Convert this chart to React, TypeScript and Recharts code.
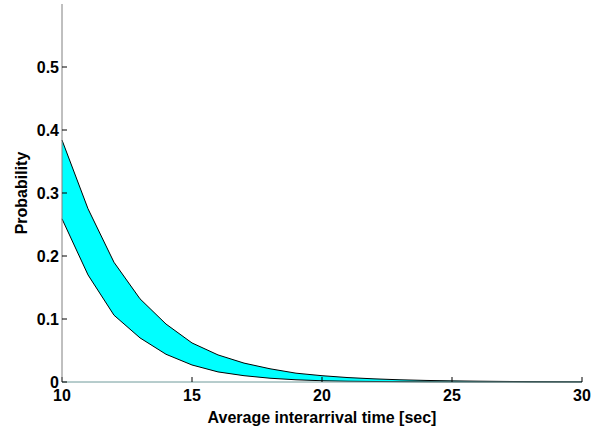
import { FC } from 'react';
import { ComposedChart, Area, XAxis, YAxis } from 'recharts';

const interarrival = [10, 11, 12, 13, 14, 15, 16, 17, 18, 19, 20, 21, 22, 23, 24, 25, 26, 27, 28, 29, 30];
const upperProb = [0.384, 0.275, 0.19, 0.132, 0.092, 0.062, 0.043, 0.03, 0.021, 0.014, 0.01, 0.007, 0.005, 0.0035, 0.0025, 0.0018, 0.0013, 0.0009, 0.0006, 0.0004, 0.0003];
const lowerProb = [0.259, 0.17, 0.106, 0.07, 0.044, 0.027, 0.016, 0.01, 0.006, 0.0035, 0.002, 0.0012, 0.0008, 0.0005, 0.0003, 0.0002, 0.0001, 0.0001, 0, 0, 0];
const xTicks = [10, 15, 20, 25, 30];
const yTicks = [0, 0.1, 0.2, 0.3, 0.4, 0.5];

const data = interarrival.map((t, i) => ({ t, band: [lowerProb[i], upperProb[i]] }));

const font = 'Liberation Sans, Arial, Helvetica, sans-serif';
const tickStyle = { fontSize: 16, fontWeight: 'bold', fill: '#000', fontFamily: font };

const App: FC = () => {
    return (
        <div style={{ position: 'absolute', left: 0, top: 0, background: '#fff' }}>
            <ComposedChart
                width={607}
                height={429}
                data={data}
                margin={{ top: 4, right: 25, left: 0, bottom: 0 }}
            >
                <XAxis
                    dataKey="t"
                    type="number"
                    domain={[10, 30]}
                    ticks={xTicks}
                    height={47}
                    tick={tickStyle}
                    tickSize={5}
                    tickMargin={3}
                    stroke="#6f9a9a"
                    tickLine={{ stroke: '#000', transform: 'translate(0,-5)' }}
                    label={{
                        value: 'Average interarrival time [sec]',
                        position: 'insideBottom',
                        offset: 6,
                        style: { fontSize: 16, fontWeight: 'bold', fill: '#000', fontFamily: font }
                    }}
                />
                <YAxis
                    type="number"
                    domain={[0, 0.6]}
                    ticks={yTicks}
                    width={62}
                    tick={tickStyle}
                    tickSize={5}
                    tickMargin={-2}
                    stroke="#808080"
                    tickLine={{ stroke: '#000', transform: 'translate(5,0)' }}
                    tickFormatter={(v: number) => `${v}`}
                    label={{
                        value: 'Probability',
                        angle: -90,
                        position: 'insideLeft',
                        offset: 21,
                        style: { fontSize: 16, fontWeight: 'bold', fill: '#000', fontFamily: font, textAnchor: 'middle' }
                    }}
                />
                <Area
                    type="linear"
                    dataKey="band"
                    stroke="#000"
                    strokeWidth={1}
                    fill="#00ffff"
                    fillOpacity={1}
                    isAnimationActive={false}
                    dot={false}
                    activeDot={false}
                />
            </ComposedChart>
        </div>
    );
};

export default App;
